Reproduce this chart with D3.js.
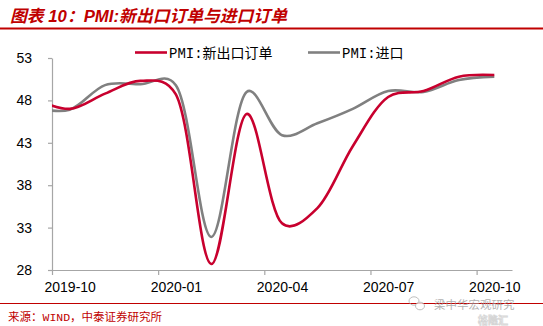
<!DOCTYPE html>
<html>
<head>
<meta charset="utf-8">
<script src="https://cdn.jsdelivr.net/npm/d3@7"></script>
<style>
  html, body { margin: 0; padding: 0; background: #fff; }
  svg { display: block; }
</style>
</head>
<body>
<svg id="chart" width="543" height="326"></svg>
<script>
// Monthly PMI sub-indices (Sep 2019 sits just left of the plot and is clipped)
const months = ["2019-09","2019-10","2019-11","2019-12","2020-01","2020-02","2020-03",
                "2020-04","2020-05","2020-06","2020-07","2020-08","2020-09","2020-10"];
const newExportOrders = [48.2, 47.0, 48.8, 50.3, 48.7, 28.7, 46.4, 33.5, 35.3, 42.6, 48.4, 49.1, 50.8, 51.0];
const imports         = [47.1, 46.9, 49.8, 49.9, 49.8, 31.9, 49.0, 43.9, 45.3, 47.0, 49.1, 49.0, 50.4, 50.8];
const seriesNames = ["PMI:新出口订单", "PMI:进口"];
const seriesColors = ["#C8002E", "#808080"];
const xTickLabels = ["2019-10", "2020-01", "2020-04", "2020-07", "2020-10"];
const yTicks = [28, 33, 38, 43, 48, 53];

const svg = d3.select("#chart");
const W = 543, H = 326;
const plot = { left: 52, right: 512, top: 58, bottom: 270 };

// month offset from the first axis month (2019-10)
const axisStart = "2019-10";
function monthOffset(m) {
  const [y, mo] = m.split("-").map(Number);
  const [y0, m0] = axisStart.split("-").map(Number);
  return (y - y0) * 12 + (mo - m0);
}
const slotCount = monthOffset("2020-10") + 1;

const x = d3.scaleLinear().domain([0, slotCount]).range([plot.left, plot.right]);
const y = d3.scaleLinear().domain([28, 53]).range([plot.bottom, plot.top]);
const halfSlot = (x(1) - x(0)) / 2;

// title block
svg.append("text")
  .attr("x", 10).attr("y", 21.5)
  .attr("fill", "#C00000")
  .attr("font-family", "'Liberation Sans', 'Noto Sans CJK SC', sans-serif")
  .attr("font-size", 16.8).attr("font-weight", "bold").attr("font-style", "italic")
  .text("图表 10：PMI:新出口订单与进口订单");
svg.append("line")
  .attr("x1", 0).attr("x2", W).attr("y1", 28.5).attr("y2", 28.5)
  .attr("stroke", "#C00000").attr("stroke-width", 2);

// axes
const gx = svg.append("g")
  .attr("transform", `translate(0,${plot.bottom})`)
  .call(d3.axisBottom(x)
    .tickValues(xTickLabels.map(monthOffset))
    .tickSize(5).tickSizeOuter(0).tickPadding(7)
    .tickFormat((d, i) => xTickLabels[i]));
gx.selectAll("text").attr("x", halfSlot);

const gy = svg.append("g")
  .attr("transform", `translate(${plot.left},0)`)
  .call(d3.axisLeft(y).tickValues(yTicks).tickSize(4).tickSizeOuter(0).tickPadding(16));

[gx, gy].forEach(g => {
  g.selectAll("path, line").attr("stroke", "#A6A6A6").attr("stroke-width", 1.2);
  g.selectAll("text")
    .attr("fill", "#000")
    .attr("font-family", "'Liberation Sans', Arial, sans-serif")
    .attr("font-size", 14);
});

// lines
svg.append("clipPath").attr("id", "plotClip")
  .append("rect")
  .attr("x", plot.left).attr("y", 0)
  .attr("width", plot.right - plot.left).attr("height", H);

const line = d3.line()
  .x(d => x(monthOffset(d.m) + 0.5))
  .y(d => y(d.v))
  .curve(d3.curveCatmullRom.alpha(0.25));

const series = [newExportOrders, imports];
const gl = svg.append("g").attr("clip-path", "url(#plotClip)");
[1, 0].forEach(k => {
  gl.append("path")
    .datum(months.map((m, i) => ({ m, v: series[k][i] })))
    .attr("fill", "none")
    .attr("stroke", seriesColors[k])
    .attr("stroke-width", 2.6)
    .attr("stroke-linejoin", "round")
    .attr("d", line);
});

// legend
const legendFont = "'Liberation Mono', 'Noto Sans CJK SC', monospace";
const legendItems = [{ x: 135, i: 0 }, { x: 308, i: 1 }];
legendItems.forEach(li => {
  svg.append("line")
    .attr("x1", li.x).attr("x2", li.x + 32)
    .attr("y1", 52.5).attr("y2", 52.5)
    .attr("stroke", seriesColors[li.i]).attr("stroke-width", 2.6);
  svg.append("text")
    .attr("x", li.x + 34).attr("y", 57.5)
    .attr("font-family", legendFont).attr("font-size", 14)
    .attr("fill", "#000")
    .text(seriesNames[li.i]);
});

// footer
svg.append("line")
  .attr("x1", 0).attr("x2", W).attr("y1", 303.5).attr("y2", 303.5)
  .attr("stroke", "#C00000").attr("stroke-width", 1);
svg.append("text")
  .attr("x", 8).attr("y", 321)
  .attr("fill", "#C00000")
  .attr("font-family", legendFont).attr("font-size", 11.5)
  .text("来源：WIND，中泰证券研究所");

// account mark
const wm = svg.append("g").attr("opacity", 0.75);
wm.append("ellipse").attr("cx", 414).attr("cy", 301).attr("rx", 5).attr("ry", 4.2)
  .attr("fill", "none").attr("stroke", "#aaa").attr("stroke-width", 1);
wm.append("ellipse").attr("cx", 420).attr("cy", 306).attr("rx", 4.5).attr("ry", 3.8)
  .attr("fill", "#fff").attr("stroke", "#aaa").attr("stroke-width", 1);
wm.append("text")
  .attr("x", 434).attr("y", 308.5)
  .attr("fill", "#999")
  .attr("font-family", "'Noto Sans CJK SC', sans-serif").attr("font-size", 11.5)
  .text("梁中华宏观研究");
wm.append("text")
  .attr("x", 478).attr("y", 324)
  .attr("fill", "#fff").attr("stroke", "#c8c8c8").attr("stroke-width", 0.8)
  .attr("font-family", "'Noto Sans CJK SC', sans-serif").attr("font-size", 10).attr("font-weight", "bold")
  .text("格隆汇");
</script>
</body>
</html>
